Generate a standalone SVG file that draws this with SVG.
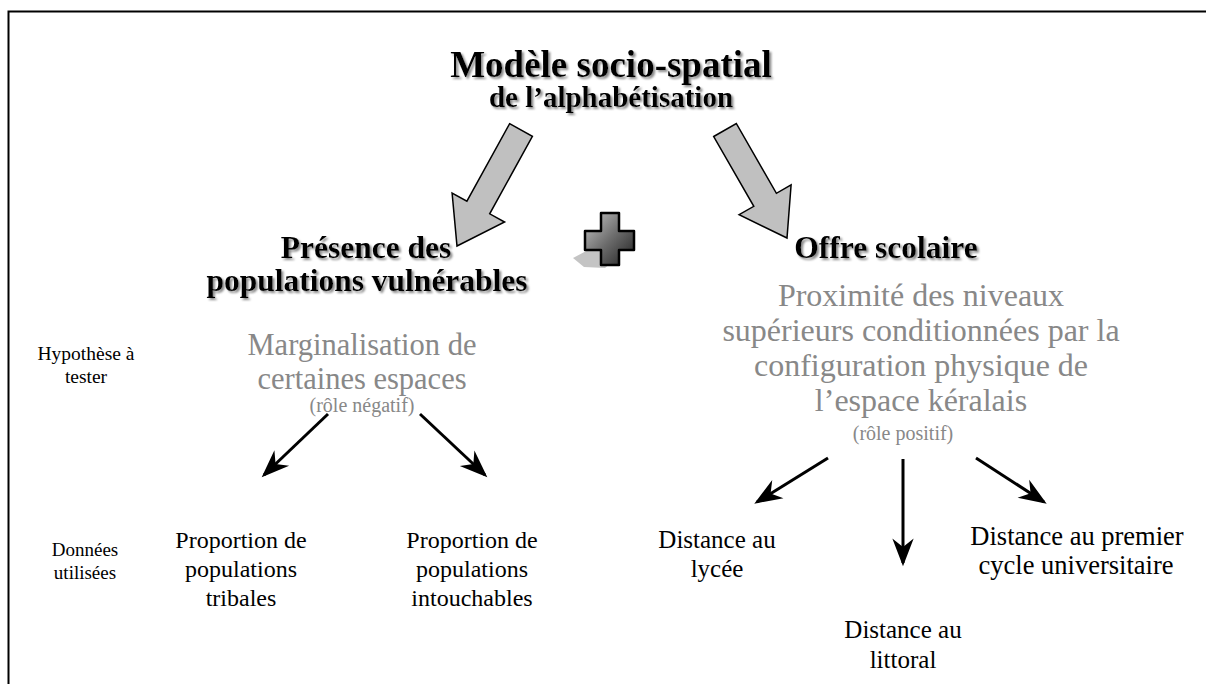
<svg xmlns="http://www.w3.org/2000/svg" width="1206" height="684" viewBox="0 0 1206 684">
<defs>
<style>
.b{font-family:"Liberation Serif","Times New Roman",serif;font-weight:bold;fill:#000;text-anchor:middle}
.g{font-family:"Liberation Serif","Times New Roman",serif;fill:#888;text-anchor:middle}
.t{font-family:"Liberation Serif","Times New Roman",serif;fill:#000;text-anchor:middle}
.big{fill:#c0c0c0;stroke:#000;stroke-width:1.5;stroke-linejoin:miter}
.ln{stroke:#000;stroke-width:3;fill:none}
</style>
<filter id="sh" x="-5%" y="-20%" width="110%" height="150%">
<feDropShadow dx="2" dy="2" stdDeviation="0.8" flood-color="#8a8a8a"/>
</filter>
<linearGradient id="pg" x1="0" y1="0" x2="1" y2="1">
<stop offset="0" stop-color="#c8c8c8"/>
<stop offset="0.5" stop-color="#6e6e6e"/>
<stop offset="1" stop-color="#202020"/>
</linearGradient>
<marker id="ah" markerUnits="userSpaceOnUse" markerWidth="32" markerHeight="26" viewBox="-27 -11 30 22" refX="-3" refY="0" orient="auto">
<path d="M0,0 L-26,-10 L-18,0 L-26,10 Z" fill="#000"/>
</marker>
</defs>
<rect width="1206" height="684" fill="#fff"/>
<path d="M8.5,684 V11.5 H1206" fill="none" stroke="#000" stroke-width="2"/>

<g id="title">
<text class="b" x="611" y="77" font-size="37" filter="url(#sh)">Modèle socio-spatial</text>
<text class="b" x="611" y="107" font-size="29" filter="url(#sh)">de l’alphabétisation</text>
</g>

<g id="big-arrows">
<polygon class="big" points="509.6,123.7 532.4,136.3 489.7,213.8 504.6,222 457,246 452.1,193 466.9,201.2"/>
<polygon class="big" points="713.7,136.5 736.3,123.5 776.4,193.3 791.1,184.9 787,238 739.1,214.7 753.8,206.3"/>
</g>

<g id="plus">
<polygon points="573,258 590,249 600,249 600,260 612,262 605,268 584,267" fill="#c4c4c4"/>
<path d="M601,213 H619 V231 H634 V250 H619 V265 H601 V250 H585 V231 H601 Z" fill="url(#pg)" stroke="#000" stroke-width="2.5" stroke-linejoin="round"/>
</g>

<g id="presence">
<text class="b" x="366" y="258" font-size="31.5" filter="url(#sh)">Présence des</text>
<text class="b" x="367" y="291" font-size="31.5" filter="url(#sh)">populations vulnérables</text>
</g>

<g id="offre">
<text class="b" x="886" y="258" font-size="31.5" filter="url(#sh)">Offre scolaire</text>
</g>

<g id="hypothese">
<text class="t" x="86" y="360" font-size="19.5">Hypothèse à</text>
<text class="t" x="86" y="383" font-size="19.5">tester</text>
</g>

<g id="donnees">
<text class="t" x="85" y="556" font-size="19">Données</text>
<text class="t" x="85" y="579" font-size="19">utilisées</text>
</g>

<g id="marginalisation">
<text class="g" x="362" y="355" font-size="30.5">Marginalisation de</text>
<text class="g" x="362" y="389" font-size="30.5">certaines espaces</text>
<text class="g" x="362" y="412" font-size="20">(rôle négatif)</text>
</g>

<g id="proximite">
<text class="g" x="921" y="306" font-size="32">Proximité des niveaux</text>
<text class="g" x="921" y="341" font-size="32">supérieurs conditionnées par la</text>
<text class="g" x="921" y="376" font-size="32">configuration physique de</text>
<text class="g" x="921" y="411" font-size="32">l’espace kéralais</text>
<text class="g" x="903" y="440" font-size="20">(rôle positif)</text>
</g>

<g id="tribales">
<text class="t" x="241" y="548" font-size="24">Proportion de</text>
<text class="t" x="241" y="577" font-size="24">populations</text>
<text class="t" x="241" y="606" font-size="24">tribales</text>
</g>

<g id="intouchables">
<text class="t" x="472" y="548" font-size="24">Proportion de</text>
<text class="t" x="472" y="577" font-size="24">populations</text>
<text class="t" x="472" y="606" font-size="24">intouchables</text>
</g>

<g id="lycee">
<text class="t" x="717" y="548" font-size="25">Distance au</text>
<text class="t" x="717" y="577" font-size="25">lycée</text>
</g>

<g id="littoral">
<text class="t" x="903" y="638" font-size="25">Distance au</text>
<text class="t" x="903" y="668" font-size="25">littoral</text>
</g>

<g id="universitaire">
<text class="t" x="1077" y="545" font-size="26.5">Distance au premier</text>
<text class="t" x="1076" y="574" font-size="26.5">cycle universitaire</text>
</g>

<g id="connectors">
<line class="ln" x1="328" y1="414" x2="264" y2="475" marker-end="url(#ah)"/>
<line class="ln" x1="420" y1="414" x2="485" y2="475" marker-end="url(#ah)"/>
<line class="ln" x1="828" y1="458" x2="757" y2="502" marker-end="url(#ah)"/>
<line class="ln" x1="903" y1="459" x2="903" y2="563" marker-end="url(#ah)"/>
<line class="ln" x1="976" y1="458" x2="1044" y2="502" marker-end="url(#ah)"/>
</g>
</svg>
